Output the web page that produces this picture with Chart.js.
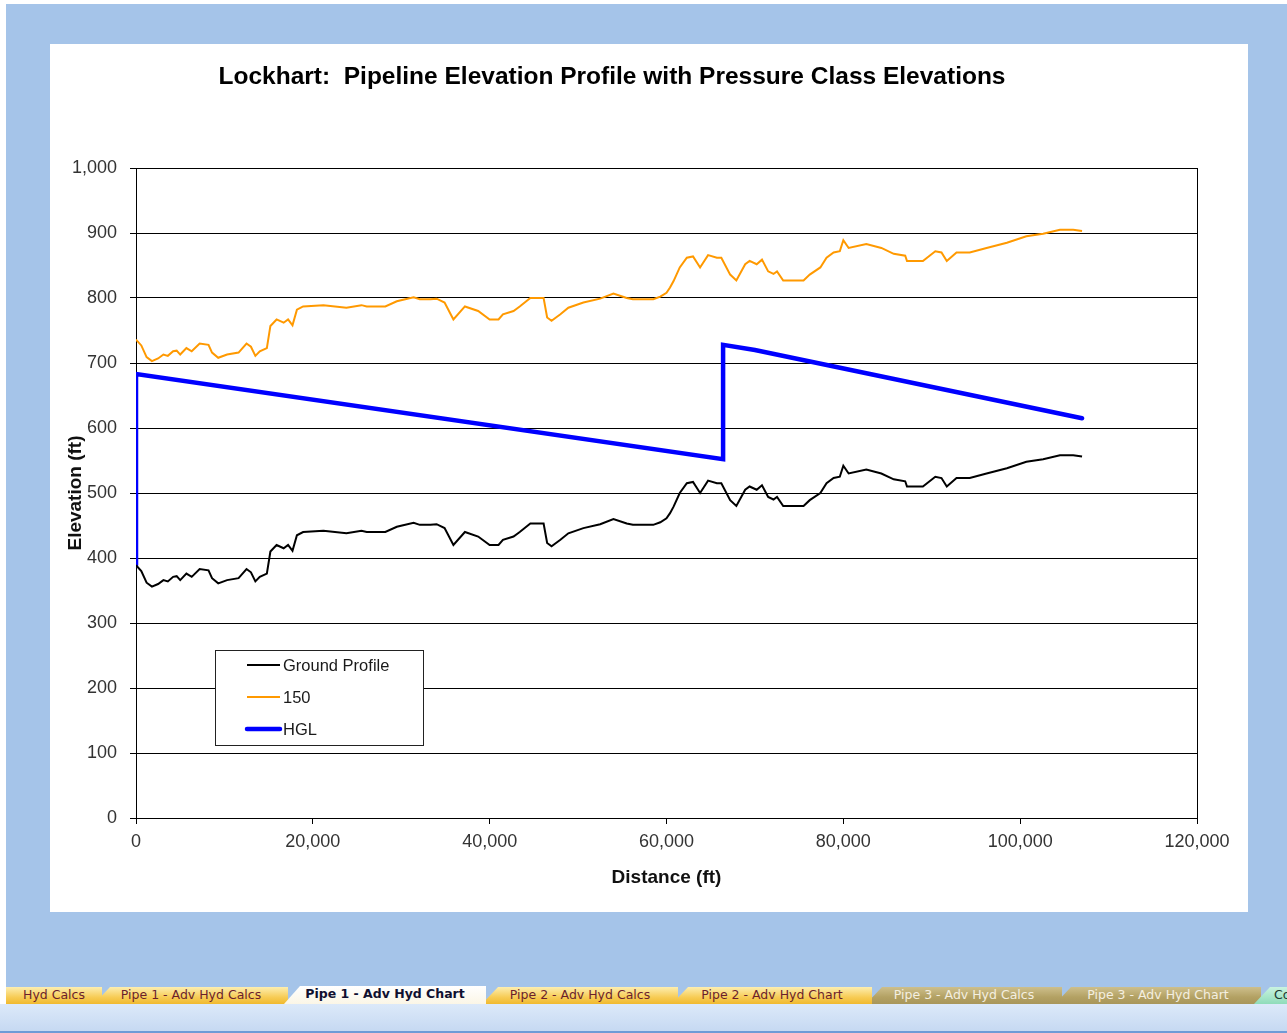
<!DOCTYPE html>
<html>
<head>
<meta charset="utf-8">
<script src="https://cdn.jsdelivr.net/npm/chart.js@4.4.1/dist/chart.umd.min.js"></script>
<style>
  body { margin: 0; width: 1287px; height: 1033px; background: #fff; overflow: hidden; position: relative; font-family: 'Liberation Sans', Arial, sans-serif; }
  #frame { position: absolute; left: 6px; top: 4px; right: 0; bottom: 0; background: #a5c4e9; }
  #box { position: absolute; left: 50px; top: 44px; width: 1198px; height: 868px; background: #fff; }
  #tabs { position: absolute; left: 0; top: 987px; width: 1287px; height: 17px; }
  .tab { position: absolute; top: 0; height: 17px; line-height: 17px; font: 12.5px 'DejaVu Sans', sans-serif; color: #6b1f2c;
         text-align: center; white-space: nowrap; overflow: hidden;
         background: linear-gradient(#fdeeb0, #f7cc55 60%, #f0b92e);
         clip-path: polygon(16px 0, 100% 0, 100% 100%, 0 100%); }
  .tab.active { background: linear-gradient(#ffffff, #fbf6e6); color: #101030; font-weight: bold; top: -1px; height: 18px; }
  .tab.grey { background: linear-gradient(#cdbf8c, #b3a163 60%, #a8965a); color: #f4efe0; }
  .tab.green { background: linear-gradient(#c9f3e0, #8fdcb9); color: #203a30; }
  #band { position: absolute; left: 0; top: 1004px; width: 1287px; height: 27px; background: linear-gradient(#dce9f9, #c6d9f2); border-bottom: 2px solid #6f9bd6; }
</style>
</head>
<body>
<div id="frame"></div>
<div id="box"><canvas id="myChart" width="1198" height="868"></canvas></div>
<div id="tabs">
  <div class="tab" style="left:6px;width:96px;clip-path:none;">Hyd Calcs</div>
  <div class="tab" style="left:94px;width:194px;">Pipe 1 - Adv Hyd Calcs</div>
  <div class="tab grey" style="left:1055px;width:206px;">Pipe 3 - Adv Hyd Chart</div>
  <div class="tab grey" style="left:866px;width:196px;">Pipe 3 - Adv Hyd Calcs</div>
  <div class="tab" style="left:672px;width:200px;">Pipe 2 - Adv Hyd Chart</div>
  <div class="tab" style="left:482px;width:196px;">Pipe 2 - Adv Hyd Calcs</div>
  <div class="tab green" style="left:1254px;width:40px;text-align:left;padding-left:20px;">Co</div>
  <div class="tab active" style="left:284px;width:202px;">Pipe 1 - Adv Hyd Chart</div>
</div>
<div id="band"></div>

<script>
// ground profile (ft)
const distance = [0, 600, 1200, 1800, 2500, 3100, 3600, 4200, 4600, 5000, 5700, 6300, 7200, 8200, 8600, 9300,
  10300, 11600, 12500, 13000, 13500, 14000, 14800, 15200, 15900, 16700, 17200, 17700, 18200, 18900, 21200,
  23800, 25500, 26100, 28200, 29500, 31400, 32100, 33300, 34000, 34900, 35900, 37200, 38700, 40000, 41000,
  41500, 42700, 43400, 44600, 46100, 46500, 47000, 48000, 48900, 50600, 52500, 54000, 55500, 56200, 58500,
  59300, 60000, 60400, 60800, 61500, 62300, 63000, 63800, 64700, 65700, 66200, 67200, 67900, 68900, 69400,
  70200, 70800, 71500, 72100, 72500, 73200, 75500, 76200, 77400, 78100, 78900, 79600, 80000, 80600, 82600,
  84300, 85700, 87000, 87200, 89000, 90400, 91100, 91700, 92800, 94300, 96200, 98500, 100700, 102600,
  104500, 106000, 107000];

const groundElev = [389, 380, 362, 356, 360, 366, 364, 371, 372, 366, 376, 371, 383, 381, 369, 361,
  366, 369, 383, 378, 364, 371, 376, 410, 420, 415, 420, 411, 435, 440, 442,
  438, 442, 440, 440, 448, 454, 451, 451, 452, 446, 420, 440, 433, 420, 420,
  428, 433, 440, 453, 453, 423, 418, 428, 438, 446, 452, 460, 453, 451, 451,
  455, 461, 469, 479, 500, 515, 517, 500, 519, 515, 515, 489, 480, 505, 510,
  505, 512, 494, 490, 494, 480, 480, 489, 500, 515, 523, 525, 542, 530, 536,
  530, 521, 518, 510, 510, 525, 523, 510, 523, 523, 530, 538, 548, 552,
  558, 558, 556];

const class150Elev = [736, 727, 709, 703, 707, 713, 711, 718, 719, 713, 723, 718, 730, 728, 716, 708,
  713, 716, 730, 725, 711, 718, 723, 757, 767, 762, 767, 758, 782, 787, 789,
  785, 789, 787, 787, 795, 801, 798, 798, 799, 793, 767, 787, 780, 767, 767,
  775, 780, 787, 800, 800, 770, 765, 775, 785, 793, 799, 807, 800, 798, 798,
  802, 808, 816, 826, 847, 862, 864, 847, 866, 862, 862, 836, 827, 852, 857,
  852, 859, 841, 837, 841, 827, 827, 836, 847, 862, 870, 872, 889, 877, 883,
  877, 868, 865, 857, 857, 872, 870, 857, 870, 870, 877, 885, 895, 899,
  905, 905, 903];

const hglDistance = [0, 0, 66400, 66400, 70000, 107000];
const hglElev = [389, 683, 552, 728, 720, 615];

const yTicks = [0, 100, 200, 300, 400, 500, 600, 700, 800, 900, 1000];
const xTicks = [0, 20000, 40000, 60000, 80000, 100000, 120000];

const seriesNames = ['Ground Profile', '150', 'HGL'];
const seriesColors = ['#000000', '#ff9900', '#0000ff'];
const seriesWidths = [2, 2, 4.5];

const toPoints = (xs, ys) => xs.map((x, i) => ({ x: x, y: ys[i] }));
const fmt = v => Number(v).toLocaleString('en-US');

const titlePlugin = {
  id: 'sheetTitle',
  afterDraw(chart) {
    const ctx = chart.ctx;
    ctx.save();
    ctx.font = "bold 24.5px 'Liberation Sans', Arial, sans-serif";
    ctx.fillStyle = '#000';
    ctx.textAlign = 'center';
    ctx.textBaseline = 'middle';
    ctx.fillText('Lockhart:  Pipeline Elevation Profile with Pressure Class Elevations', 562, 33);
    ctx.restore();
  }
};

const legendPlugin = {
  id: 'boxLegend',
  afterDatasetsDraw(chart) {
    const ctx = chart.ctx;
    ctx.save();
    ctx.fillStyle = '#fff';
    ctx.fillRect(165, 606, 208, 95);
    ctx.strokeStyle = '#222';
    ctx.lineWidth = 1;
    ctx.strokeRect(165.5, 606.5, 208, 95);
    ctx.font = "16.5px 'Liberation Sans', Arial, sans-serif";
    ctx.textBaseline = 'middle';
    seriesNames.forEach((name, i) => {
      const y = 621 + i * 32;
      ctx.beginPath();
      ctx.strokeStyle = seriesColors[i];
      ctx.lineWidth = seriesWidths[i];
      ctx.lineCap = i === 2 ? 'round' : 'butt';
      ctx.moveTo(197, y);
      ctx.lineTo(230, y);
      ctx.stroke();
      ctx.fillStyle = '#1a1a1a';
      ctx.fillText(name, 233, y + 1);
    });
    ctx.restore();
  }
};

const ctx = document.getElementById('myChart');
const myChart = new Chart(ctx, {
  type: 'line',
  data: {
    datasets: [
      { label: seriesNames[0], data: toPoints(distance, groundElev), borderColor: seriesColors[0],
        borderWidth: seriesWidths[0], pointRadius: 0, tension: 0, fill: false },
      { label: seriesNames[1], data: toPoints(distance, class150Elev), borderColor: seriesColors[1],
        borderWidth: seriesWidths[1], pointRadius: 0, tension: 0, fill: false },
      { label: seriesNames[2], data: toPoints(hglDistance, hglElev), borderColor: seriesColors[2],
        borderWidth: seriesWidths[2], pointRadius: 0, tension: 0, fill: false, clip: 0,
        borderCapStyle: 'round', borderJoinStyle: 'miter' }
    ]
  },
  options: {
    responsive: false,
    animation: false,
    devicePixelRatio: 1,
    layout: { padding: { left: 0, right: 51, top: 124, bottom: 0 } },
    plugins: {
      legend: { display: false },
      title: { display: false },
      tooltip: { enabled: false }
    },
    scales: {
      x: {
        type: 'linear',
        min: 0,
        max: 120000,
        afterBuildTicks: s => { s.ticks = xTicks.map(v => ({ value: v })); },
        afterFit: s => { s.height = 94; },
        ticks: { font: { family: "'Liberation Sans', Arial, sans-serif", size: 18 }, color: '#333',
                 padding: 7, maxRotation: 0, callback: v => fmt(v) },
        grid: { drawOnChartArea: true, tickLength: 6, tickColor: '#000',
                color: c => (c.tick && (c.tick.value === 120000 || c.tick.value === 0)) ? '#000' : 'rgba(0,0,0,0)' },
        border: { display: true, color: '#000', width: 1 },
        title: { display: true, text: 'Distance (ft)', color: '#111',
                 font: { family: "'Liberation Sans', Arial, sans-serif", size: 19, weight: 'bold' },
                 padding: { top: 0, bottom: 23 } }
      },
      y: {
        min: 0,
        max: 1000,
        afterBuildTicks: s => { s.ticks = yTicks.map(v => ({ value: v })); },
        afterFit: s => { s.width = 86; },
        ticks: { font: { family: "'Liberation Sans', Arial, sans-serif", size: 18 }, color: '#333',
                 padding: 13, callback: v => fmt(v) },
        grid: { color: '#000', lineWidth: 1, tickLength: 6, tickColor: '#000' },
        border: { display: true, color: '#000', width: 1 },
        title: { display: true, text: 'Elevation (ft)', color: '#111',
                 font: { family: "'Liberation Sans', Arial, sans-serif", size: 19, weight: 'bold' },
                 padding: { top: 14, bottom: 0 } }
      }
    }
  },
  plugins: [titlePlugin, legendPlugin]
});
</script>
</body>
</html>
